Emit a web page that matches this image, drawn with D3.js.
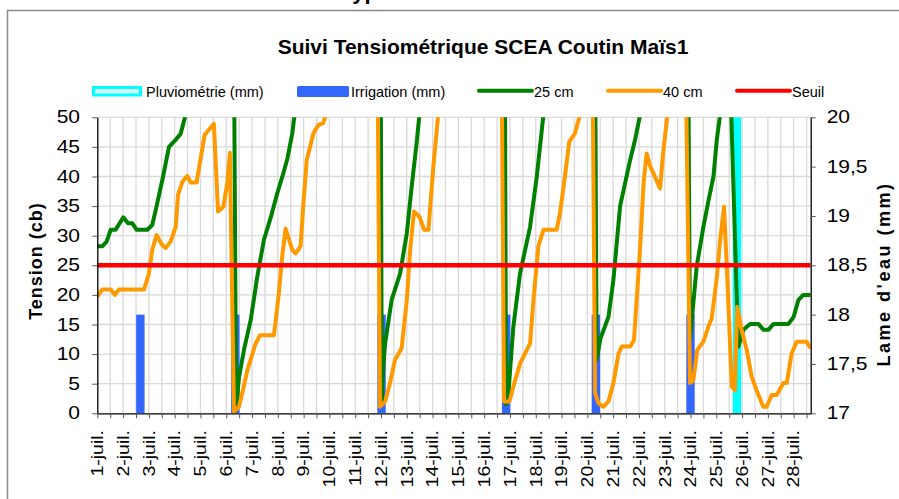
<!DOCTYPE html>
<html>
<head>
<meta charset="utf-8">
<script src="https://cdn.jsdelivr.net/npm/d3@7/dist/d3.min.js"></script>
<style>
body { margin: 0; background: #ffffff; }
text { font-family: "Liberation Sans", Arial, sans-serif; fill: #000; }
</style>
</head>
<body>
<div id="chart"></div>
<script>
// Suivi tensiometrique - D3 v7

// ---- data ----
// x values are days of July (1 = 1-juil. 0h)
var dayLabels = d3.range(1, 29).map(function (d) { return d + "-juil."; });
var irrigationDays = [2.67, 6.35, 12.02, 16.85, 20.33, 24.0];
var irrigationMm = [18, 18, 18, 18, 18, 18];
var pluvioDays = [25.8];
var pluvioMm = [20];
var seuil = 25;

// 25 cm probe (cb)
var tension25 = [
  [1.0, 28.2], [1.19, 28.2], [1.36, 29], [1.52, 31], [1.71, 31], [2.01, 33.1], [2.19, 32.1],
  [2.36, 32.1], [2.53, 31], [2.94, 31], [3.13, 31.8], [3.3, 35], [3.55, 40], [3.78, 45],
  [4.0, 46], [4.23, 47.2], [4.4, 50], [4.6, 54], [5.3, 64], [5.8, 70], [6.28, 76],
  [6.38, 0.5], [6.49, 6], [6.7, 11], [6.95, 15.8], [7.2, 23], [7.46, 29.3], [7.72, 33],
  [7.98, 37.2], [8.21, 40.5], [8.37, 43], [8.56, 47.3], [8.65, 50.5], [9.0, 58], [10, 70],
  [11, 80], [11.97, 88], [12.03, 2], [12.09, 7.9], [12.16, 11.8], [12.41, 19.1], [12.74, 23.6],
  [13.0, 30.4], [13.19, 38.3], [13.38, 45.6], [13.49, 50.5], [13.8, 58], [15, 72], [16.78, 85],
  [16.85, 1.5], [16.94, 3.4], [17.13, 14.6], [17.39, 23.6], [17.78, 31.5], [18.04, 40],
  [18.3, 50.5], [18.6, 58], [19.5, 70], [20.28, 80], [20.36, 9], [20.5, 12.5], [20.82, 16.3],
  [21.01, 22.5], [21.27, 35], [21.66, 42.8], [21.85, 46.2], [22.05, 50.5], [22.5, 58],
  [23.4, 70], [23.88, 78], [23.98, 12.5], [24.24, 24.8], [24.5, 31.5], [24.7, 36], [24.89, 40],
  [25.02, 46.2], [25.15, 50.5], [25.35, 58], [25.5, 62], [25.79, 20.3], [25.86, 11.3],
  [26.05, 14.1], [26.31, 15.1], [26.63, 15.1], [26.83, 14.1], [27.02, 14.1], [27.22, 15.1],
  [27.8, 15.1], [28.0, 16.3], [28.18, 19.1], [28.37, 20], [28.66, 20]
];

// 40 cm probe (cb)
var tension40 = [
  [1.0, 19.7], [1.19, 20.9], [1.52, 20.9], [1.68, 20], [1.84, 20.9], [2.81, 20.9], [3.0, 23.6],
  [3.13, 27.6], [3.3, 30.1], [3.5, 28.5], [3.65, 27.9], [3.84, 29], [4.04, 31.5], [4.13, 36.9],
  [4.3, 39.1], [4.49, 40.1], [4.62, 39], [4.85, 39], [5.16, 47], [5.52, 48.9], [5.68, 34.1],
  [5.89, 34.9], [6.04, 38.9], [6.14, 44], [6.3, 0.3], [6.49, 1.1], [6.62, 3.4], [6.82, 7.3],
  [7.14, 11.8], [7.31, 13.2], [7.85, 13.2], [8.04, 20.3], [8.17, 26.5], [8.3, 31.2],
  [8.56, 27.6], [8.69, 27], [8.88, 28.2], [9.0, 36], [9.12, 42.8], [9.38, 47.3], [9.57, 48.7],
  [9.76, 49], [9.87, 50.5], [10.2, 56], [11, 66], [11.84, 75], [11.96, 1.1], [12.16, 2],
  [12.35, 5.1], [12.54, 9], [12.8, 11], [13.0, 19.1], [13.13, 27.6], [13.28, 34.1],
  [13.49, 33.2], [13.67, 31], [13.84, 31], [14.03, 41.7], [14.22, 50.5], [14.6, 58],
  [15.6, 68], [16.65, 76], [16.77, 2], [16.98, 2], [17.13, 4.5], [17.39, 8.4], [17.78, 11.8],
  [17.91, 19.1], [18.1, 28.2], [18.3, 31], [18.81, 31], [18.94, 33.8], [19.13, 40],
  [19.3, 45.9], [19.52, 47.3], [19.72, 50.5], [20.0, 56], [20.2, 60], [20.3, 3.4],
  [20.43, 1.7], [20.62, 1.1], [20.82, 2], [21.01, 5.1], [21.21, 10.1], [21.34, 11.3],
  [21.66, 11.3], [21.81, 12.4], [22.05, 28.2], [22.18, 38.9], [22.3, 43.9], [22.44, 41.7],
  [22.82, 38], [22.95, 44.5], [23.11, 50.5], [23.4, 57], [23.8, 64], [23.98, 5.1],
  [24.11, 5.6], [24.26, 10.7], [24.5, 12.1], [24.69, 14.6], [24.82, 16], [24.91, 19.1],
  [25.01, 22.5], [25.15, 29.3], [25.3, 34.9], [25.43, 22.5], [25.6, 4.5], [25.72, 3.9],
  [25.81, 18], [25.98, 14.1], [26.18, 10.7], [26.37, 6.2], [26.56, 3.9], [26.82, 1.1],
  [26.95, 1.1], [27.15, 3.1], [27.34, 3.1], [27.6, 5.1], [27.73, 5.1], [27.92, 10.1],
  [28.12, 12.1], [28.5, 12.1], [28.66, 11]
];

// ---- layout ----
const width = 899, height = 499,
    pLeft = 97.3, pRight = 810.7, pTop = 117.3, pBottom = 413.3;

const svg = d3.select("#chart").append("svg")
    .attr("width", width)
    .attr("height", height);

svg.append("rect").attr("width", width).attr("height", height).attr("fill", "#fff");

// chart frame (extends past the picture)
svg.append("path")
    .attr("d", "M7.5," + height + "V10.5H" + width)
    .attr("fill", "none")
    .attr("stroke", "#8c8c8c")
    .attr("stroke-width", 1.5);

// cut-off heading above the frame
svg.append("text")
    .attr("x", 345).attr("y", -1.5)
    .attr("font-size", 22).attr("font-weight", "bold")
    .text("type");

// scales
var x = d3.scaleLinear().domain([1, 28.66]).range([pLeft, pRight]);
var yL = d3.scaleLinear().domain([0, 50]).range([pBottom, pTop]);
var yR = d3.scaleLinear().domain([17, 20]).range([pBottom, pTop]);

// title
svg.append("text")
    .attr("x", 483).attr("y", 53.5)
    .attr("text-anchor", "middle")
    .attr("font-size", 21).attr("font-weight", "bold")
    .text("Suivi Tensiométrique SCEA Coutin Maïs1");

// gridlines
var grid = svg.append("g").attr("stroke", "#d9d9d9").attr("stroke-width", 1.3);
grid.selectAll(".gh").data(d3.range(5, 51, 5)).enter().append("line")
    .attr("x1", pLeft).attr("x2", pRight)
    .attr("y1", function (d) { return yL(d); })
    .attr("y2", function (d) { return yL(d); });
grid.selectAll(".gv").data(d3.range(1.5, 28.51, 0.5)).enter().append("line")
    .attr("y1", pTop).attr("y2", pBottom)
    .attr("x1", function (d) { return x(d); })
    .attr("x2", function (d) { return x(d); });

// clip
svg.append("clipPath").attr("id", "plot")
    .append("rect").attr("x", pLeft).attr("y", pTop)
    .attr("width", pRight - pLeft).attr("height", pBottom - pTop);
var plot = svg.append("g").attr("clip-path", "url(#plot)");

// bars (right axis)
plot.selectAll(".irr").data(irrigationDays).enter().append("rect")
    .attr("x", function (d) { return x(d) - 4.2; })
    .attr("width", 8.4)
    .attr("y", function (d, i) { return yR(irrigationMm[i]); })
    .attr("height", function (d, i) { return yR(17) - yR(irrigationMm[i]); })
    .attr("fill", "#3366ff");
plot.selectAll(".plu").data(pluvioDays).enter().append("rect")
    .attr("x", function (d) { return x(d) - 4.2; })
    .attr("width", 8.4)
    .attr("y", function (d, i) { return yR(pluvioMm[i]); })
    .attr("height", function (d, i) { return yR(17) - yR(pluvioMm[i]); })
    .attr("fill", "#00ffff");

// lines
var line = d3.line()
    .x(function (d) { return x(d[0]); })
    .y(function (d) { return yL(d[1]); });

plot.append("path").datum(tension25)
    .attr("d", line).attr("fill", "none")
    .attr("stroke", "#008000").attr("stroke-width", 4)
    .attr("stroke-linejoin", "round");
plot.append("path").datum(tension40)
    .attr("d", line).attr("fill", "none")
    .attr("stroke", "#ff9900").attr("stroke-width", 4)
    .attr("stroke-linejoin", "round");
plot.append("line")
    .attr("x1", pLeft).attr("x2", pRight)
    .attr("y1", yL(seuil)).attr("y2", yL(seuil))
    .attr("stroke", "#ff0000").attr("stroke-width", 4.5);

// axes
var axL = svg.append("g").attr("transform", "translate(" + pLeft + ",0)")
    .call(d3.axisLeft(yL).tickValues(d3.range(0, 51, 5)).tickSize(5).tickSizeOuter(0));
axL.selectAll("text")
    .attr("x", 0).attr("font-size", 17.5)
    .attr("transform", "translate(-17.3,0) scale(1.2,1)");

var axR = svg.append("g").attr("transform", "translate(" + pRight + ",0)")
    .call(d3.axisRight(yR).tickValues(d3.range(17, 20.01, 0.5)).tickSize(5).tickSizeOuter(0)
        .tickFormat(function (d) { return String(d).replace(".", ","); }));
axR.selectAll("text")
    .attr("x", 0).attr("font-size", 17.5)
    .attr("transform", "translate(16,0) scale(1.2,1)");

var axB = svg.append("g").attr("transform", "translate(0," + pBottom + ")")
    .call(d3.axisBottom(x).tickValues(d3.range(1, 28.51, 0.5)).tickSize(5).tickSizeOuter(0).tickFormat(""));

[axL, axR, axB].forEach(function (a) {
    a.select(".domain").attr("stroke", "#000").attr("stroke-width", 1.3);
    a.selectAll(".tick line").attr("stroke", "#555");
    a.attr("font-family", null);
});

// date labels
svg.append("g").selectAll("text").data(dayLabels).enter().append("text")
    .attr("text-anchor", "end")
    .attr("font-size", 16)
    .attr("transform", function (d, i) {
        return "translate(" + (x(i + 1) + 5.8) + ",430) rotate(-90) scale(1.22,1)";
    })
    .text(function (d) { return d; });

// axis titles
svg.append("text")
    .attr("transform", "translate(41.5,261) rotate(-90)")
    .attr("text-anchor", "middle")
    .attr("font-size", 18).attr("font-weight", "bold")
    .attr("letter-spacing", 1)
    .text("Tension (cb)");
svg.append("text")
    .attr("transform", "translate(889.5,274) rotate(-90)")
    .attr("text-anchor", "middle")
    .attr("font-size", 18).attr("font-weight", "bold")
    .attr("letter-spacing", 2.5)
    .text("Lame d'eau (mm)");

// legend
var legend = svg.append("g").attr("font-size", 14.5);
legend.append("rect").attr("x", 93.5).attr("y", 87.5).attr("width", 47).attr("height", 7.5)
    .attr("fill", "#ccffff").attr("stroke", "#00ffff").attr("stroke-width", 3);
legend.append("text").attr("x", 146).attr("y", 96.5).text("Pluviométrie (mm)");
legend.append("rect").attr("x", 297).attr("y", 86).attr("width", 52).attr("height", 11)
    .attr("rx", 1.5).attr("fill", "#3366ff");
legend.append("text").attr("x", 351).attr("y", 96.5).text("Irrigation (mm)");

var legendLines = [
    { x: 479, color: "#008000", label: "25 cm" },
    { x: 608, color: "#ff9900", label: "40 cm" },
    { x: 737, color: "#ff0000", label: "Seuil" }
];
legendLines.forEach(function (l) {
    legend.append("line").attr("x1", l.x).attr("x2", l.x + 53)
        .attr("y1", 90.7).attr("y2", 90.7)
        .attr("stroke", l.color).attr("stroke-width", 4).attr("stroke-linecap", "round");
    legend.append("text").attr("x", l.x + 55).attr("y", 96.5).text(l.label);
});
</script>
</body>
</html>
